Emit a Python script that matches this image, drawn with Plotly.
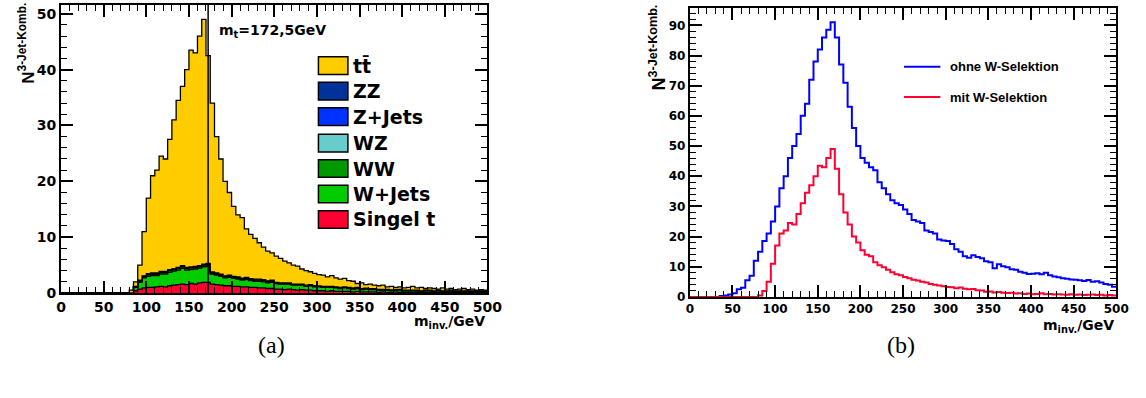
import numpy as np
import plotly.graph_objects as go

# ---------------- data (5 GeV bins from 0 to 500 GeV) ----------------
bin_width = 5.0
m_top = 172.5

# total with W selection (left stacked total == right red curve)
n_mit_W = [0, 0, 0, 0, 0, 0, 0, 0, 0, 0, 0, 0, 0, 0, 0, 0,
           0.5, 2.0, 5.0, 11.0, 17.0, 21.0, 22.0, 24.5, 24.0, 27.5, 31.0, 34.5, 37.0, 40.0,
           43.5, 43.0, 46.0, 49.0, 42.5, 34.0, 28.0, 24.0, 20.0, 18.0,
           15.5, 14.0, 13.5, 11.5, 10.5, 9.8, 9.0, 8.2, 7.5, 7.2,
           6.6, 6.2, 5.7, 5.4, 5.0, 4.8, 4.3, 4.0, 3.8, 3.5,
           3.3, 3.2, 2.9, 3.1, 2.7, 2.5, 2.6, 2.2, 2.1, 1.7,
           1.8, 1.5, 1.6, 1.4, 1.3, 1.4, 1.1, 1.2, 1.0, 1.1,
           0.9, 1.0, 1.2, 0.9, 1.0, 0.8, 0.9, 0.8, 0.7, 0.9,
           0.7, 0.8, 0.6, 0.7, 0.8, 0.6, 0.7, 0.5, 0.6, 0.5]

# without W selection (right blue curve)
n_ohne_W = [0, 0, 0, 0, 0, 0, 0, 0.3, 0.5, 0.8,
            1.2, 2.5, 3.0, 5.5, 7.0, 12.0, 15.0, 18.5, 21.0, 25.0,
            30.0, 36.0, 40.0, 46.0, 50.0, 54.0, 60.0, 64.0, 72.0, 78.0,
            82.0, 86.0, 88.5, 91.0, 86.0, 77.0, 71.0, 63.0, 56.0, 50.0,
            46.0, 44.5, 43.0, 42.0, 38.0, 36.0, 34.0, 32.0, 31.0, 30.5,
            29.0, 27.5, 25.5, 25.0, 24.5, 22.0, 21.5, 21.0, 19.0, 18.7,
            18.5, 17.5, 15.8, 15.0, 13.5, 13.0, 13.8, 13.2, 12.8, 11.8,
            11.5, 9.5, 10.8, 10.2, 9.8, 9.2, 9.0, 8.3, 8.0, 7.6,
            7.7, 7.8, 7.5, 8.0, 7.2, 6.8, 6.5, 6.2, 6.0, 5.8,
            5.7, 5.5, 5.3, 5.6, 5.0, 5.2, 4.8, 4.3, 4.0, 3.4]

singel_t = [0, 0, 0, 0, 0, 0, 0, 0, 0, 0, 0, 0, 0, 0, 0, 0, 0,
            0.4, 0.7, 0.9, 1.0, 1.0, 1.1, 1.2, 1.1, 1.3, 1.4, 1.5, 1.6, 1.5,
            1.7, 1.6, 1.8, 1.9, 1.9, 1.6, 1.5, 1.4, 1.3, 1.3,
            1.2, 1.2, 1.1, 1.1, 1.0, 1.0, 0.9, 0.9, 0.8, 0.8,
            0.7, 0.7, 0.6, 0.7, 0.6, 0.5, 0.6, 0.5, 0.5, 0.4,
            0.4, 0.4, 0.3, 0.4, 0.3, 0.3, 0.3, 0.3, 0.2, 0.3,
            0.2, 0.2, 0.2, 0.2, 0.1, 0.2, 0.1, 0.1, 0.2, 0.1,
            0.1, 0.1, 0.1, 0.1, 0.1, 0.1, 0.1, 0.1, 0.1, 0.1,
            0.1, 0.1, 0.1, 0.1, 0.1, 0.1, 0.1, 0.1, 0.1, 0.1]

w_jets = [0, 0, 0, 0, 0, 0, 0, 0, 0, 0, 0, 0, 0, 0, 0, 0, 0,
          0.6, 1.2, 1.8, 2.0, 2.1, 2.0, 2.2, 2.3, 2.4, 2.5, 2.6, 2.8, 2.6,
          2.5, 2.7, 2.6, 2.8, 2.9, 1.8, 1.7, 1.6, 1.4, 1.5,
          1.4, 1.3, 1.2, 1.3, 1.2, 1.1, 1.2, 1.1, 1.0, 1.1,
          1.0, 0.9, 1.0, 0.9, 0.8, 0.9, 0.8, 0.7, 0.8, 0.7,
          0.7, 0.6, 0.7, 0.6, 0.6, 0.5, 0.6, 0.5, 0.5, 0.5,
          0.4, 0.5, 0.4, 0.4, 0.4, 0.3, 0.4, 0.3, 0.3, 0.4,
          0.3, 0.3, 0.3, 0.3, 0.2, 0.3, 0.3, 0.2, 0.3, 0.2,
          0.2, 0.3, 0.2, 0.2, 0.2, 0.2, 0.2, 0.2, 0.2, 0.2]

ww = [0, 0, 0, 0, 0, 0, 0, 0, 0, 0, 0, 0, 0, 0, 0, 0, 0,
      0.1, 0.2, 0.2, 0.3, 0.3, 0.3, 0.3, 0.3, 0.3, 0.3, 0.3, 0.3, 0.3,
      0.3, 0.3, 0.3, 0.3, 0.3, 0.2, 0.2, 0.2, 0.2, 0.2,
      0.2, 0.2, 0.2, 0.2, 0.2, 0.2, 0.2, 0.2, 0.2, 0.2,
      0.1, 0.1, 0.1, 0.1, 0.1, 0.1, 0.1, 0.1, 0.1, 0.1,
      0.1, 0.1, 0.1, 0.1, 0.1, 0.1, 0.1, 0.1, 0.1, 0.1,
      0.1, 0.1, 0.1, 0.1, 0.1, 0.1, 0.1, 0.1, 0.1, 0.1,
      0.05, 0.05, 0.05, 0.05, 0.05, 0.05, 0.05, 0.05, 0.05, 0.05,
      0.05, 0.05, 0.05, 0.05, 0.05, 0.05, 0.05, 0.05, 0.05, 0.05]

wz = [0, 0, 0, 0, 0, 0, 0, 0, 0, 0, 0, 0, 0, 0, 0, 0, 0,
      0.03, 0.05, 0.05, 0.05, 0.05, 0.05, 0.05, 0.05, 0.05, 0.05, 0.05, 0.05, 0.05,
      0.05, 0.05, 0.05, 0.05, 0.05, 0.05, 0.05, 0.05, 0.05, 0.05,
      0.05, 0.05, 0.05, 0.05, 0.05, 0.05, 0.05, 0.05, 0.05, 0.05,
      0.03, 0.03, 0.03, 0.03, 0.03, 0.03, 0.03, 0.03, 0.03, 0.03,
      0.02, 0.02, 0.02, 0.02, 0.02, 0.02, 0.02, 0.02, 0.02, 0.02,
      0.02, 0.02, 0.02, 0.02, 0.02, 0.02, 0.02, 0.02, 0.02, 0.02,
      0.01, 0.01, 0.01, 0.01, 0.01, 0.01, 0.01, 0.01, 0.01, 0.01,
      0.01, 0.01, 0.01, 0.01, 0.01, 0.01, 0.01, 0.01, 0.01, 0.01]

z_jets = [0, 0, 0, 0, 0, 0, 0, 0, 0, 0, 0, 0, 0, 0, 0, 0, 0,
          0.05, 0.1, 0.1, 0.1, 0.1, 0.1, 0.1, 0.1, 0.1, 0.1, 0.1, 0.1, 0.1,
          0.1, 0.1, 0.1, 0.1, 0.1, 0.1, 0.1, 0.1, 0.1, 0.1,
          0.1, 0.1, 0.1, 0.1, 0.1, 0.1, 0.1, 0.1, 0.1, 0.1,
          0.05, 0.05, 0.05, 0.05, 0.05, 0.05, 0.05, 0.05, 0.05, 0.05,
          0.05, 0.05, 0.05, 0.05, 0.05, 0.05, 0.05, 0.05, 0.05, 0.05,
          0.03, 0.03, 0.03, 0.03, 0.03, 0.03, 0.03, 0.03, 0.03, 0.03,
          0.02, 0.02, 0.02, 0.02, 0.02, 0.02, 0.02, 0.02, 0.02, 0.02,
          0.02, 0.02, 0.02, 0.02, 0.02, 0.02, 0.02, 0.02, 0.02, 0.02]

zz = [0, 0, 0, 0, 0, 0, 0, 0, 0, 0, 0, 0, 0, 0, 0, 0, 0,
      0.02, 0.03, 0.03, 0.03, 0.03, 0.03, 0.03, 0.03, 0.03, 0.03, 0.03, 0.03, 0.03,
      0.03, 0.03, 0.03, 0.03, 0.03, 0.03, 0.03, 0.03, 0.03, 0.03,
      0.03, 0.03, 0.03, 0.03, 0.03, 0.03, 0.03, 0.03, 0.03, 0.03,
      0.02, 0.02, 0.02, 0.02, 0.02, 0.02, 0.02, 0.02, 0.02, 0.02,
      0.02, 0.02, 0.02, 0.02, 0.02, 0.02, 0.02, 0.02, 0.02, 0.02,
      0.01, 0.01, 0.01, 0.01, 0.01, 0.01, 0.01, 0.01, 0.01, 0.01,
      0.01, 0.01, 0.01, 0.01, 0.01, 0.01, 0.01, 0.01, 0.01, 0.01,
      0.01, 0.01, 0.01, 0.01, 0.01, 0.01, 0.01, 0.01, 0.01, 0.01]

legend_left = ["t\u0074\u0304", "ZZ", "Z+Jets", "WZ", "WW", "W+Jets", "Singel t"]
legend_right = ["ohne W-Selektion", "mit W-Selektion"]
x_ticks = [0, 50, 100, 150, 200, 250, 300, 350, 400, 450, 500]

# ---------------- derived ----------------
n_bins = len(n_mit_W)
x_edges = np.arange(n_bins + 1) * bin_width
backgrounds = np.array(singel_t) + np.array(w_jets) + np.array(ww) + np.array(wz) + np.array(z_jets) + np.array(zz)
ttbar = np.clip(np.array(n_mit_W) - backgrounds, 0, None)

def step(vals):
    v = list(vals)
    return v + [v[-1]]

colors = {
    "tt": "#ffcc00", "ZZ": "#003399", "Z+Jets": "#0033ff", "WZ": "#66cccc",
    "WW": "#009900", "W+Jets": "#00cc00", "Singel t": "#ff0033",
}

W, H = 1146, 398
def px(x):
    return x / W
def py(y):
    return 1 - y / H

fig = go.Figure()

# stacked left histogram (bottom to top)
layers = [("Singel t", singel_t), ("W+Jets", w_jets), ("WW", ww), ("WZ", wz),
          ("Z+Jets", z_jets), ("ZZ", zz), ("tt", ttbar)]
cum = np.zeros(n_bins)
for i, (name, vals) in enumerate(layers):
    cum = cum + np.array(vals, dtype=float)
    fig.add_trace(go.Scatter(
        x=x_edges, y=step(cum), mode="lines",
        line=dict(shape="hv", color="black", width=1.3),
        fill="tozeroy" if i == 0 else "tonexty", fillcolor=colors[name],
        xaxis="x", yaxis="y", showlegend=False, name=name, hoverinfo="skip"))

# right plot
fig.add_trace(go.Scatter(x=x_edges, y=step(n_ohne_W), mode="lines",
                         line=dict(shape="hv", color="#0000ff", width=2),
                         xaxis="x2", yaxis="y2", showlegend=False, name=legend_right[0]))
fig.add_trace(go.Scatter(x=x_edges, y=step(n_mit_W), mode="lines",
                         line=dict(shape="hv", color="#ff0033", width=2),
                         xaxis="x2", yaxis="y2", showlegend=False, name=legend_right[1]))

tick_font_l = dict(family="DejaVu Sans", size=14, color="black", weight="bold")
tick_font_r = dict(family="DejaVu Sans", size=12, color="black", weight="bold")

def xaxis(domain, anchor, font):
    return dict(domain=domain, anchor=anchor, range=[0, 500], tickmode="array", tickvals=x_ticks,
                ticks="inside", ticklen=12, tickwidth=1.5, tickcolor="black",
                minor=dict(dtick=10, tick0=0, ticks="inside", ticklen=6, tickwidth=1, tickcolor="black"),
                showline=True, linewidth=2, linecolor="black", mirror="ticks",
                showgrid=False, zeroline=False, tickfont=font)

def yaxis(domain, anchor, rng, font):
    return dict(domain=domain, anchor=anchor, range=rng, dtick=10, tick0=0,
                ticks="inside", ticklen=12, tickwidth=1.5, tickcolor="black",
                minor=dict(dtick=2, tick0=0, ticks="inside", ticklen=6, tickwidth=1, tickcolor="black"),
                showline=True, linewidth=2, linecolor="black", mirror="ticks",
                showgrid=False, zeroline=False, tickfont=font)

fig.update_layout(
    width=W, height=H, margin=dict(l=0, r=0, t=0, b=0),
    paper_bgcolor="white", plot_bgcolor="white", showlegend=False,
    xaxis=xaxis([px(57), px(491)], "y", tick_font_l),
    yaxis=yaxis([py(299), py(5)], "x", [0, 51.6], tick_font_l),
    xaxis2=xaxis([px(697), px(1131)], "y2", tick_font_r),
    yaxis2=yaxis([py(303), py(8)], "x2", [0, 95.8], tick_font_r),
)

# top-mass line
fig.add_shape(type="line", xref="x", yref="y domain", x0=m_top, x1=m_top, y0=0, y1=1,
              line=dict(color="black", width=1.5))

ann = []
bold_l = dict(family="Liberation Sans", color="black", weight="bold")
# axis titles
ann.append(dict(text="N<sup>3-Jet-Komb.</sup>", x=px(22), y=py(44), xref="paper", yref="paper",
                textangle=-90, xanchor="center", yanchor="middle", showarrow=False,
                font=dict(bold_l, size=17)))
ann.append(dict(text="N<sup>3-Jet-Komb.</sup>", x=px(664), y=py(48), xref="paper", yref="paper",
                textangle=-90, xanchor="center", yanchor="middle", showarrow=False,
                font=dict(bold_l, size=18)))
ann.append(dict(text="m<sub>inv.</sub>/GeV", x=px(491), y=py(329), xref="paper", yref="paper",
                xanchor="right", yanchor="middle", showarrow=False,
                font=dict(family="DejaVu Sans", color="black", weight="bold", size=14)))
ann.append(dict(text="m<sub>inv.</sub>/GeV", x=px(1131), y=py(333), xref="paper", yref="paper",
                xanchor="right", yanchor="middle", showarrow=False,
                font=dict(family="DejaVu Sans", color="black", weight="bold", size=14)))
ann.append(dict(text="m<sub>t</sub>=172,5GeV", x=px(216), y=py(32), xref="paper", yref="paper",
                xanchor="left", yanchor="middle", showarrow=False,
                font=dict(family="DejaVu Sans", color="black", weight="bold", size=14)))
# panel labels
ann.append(dict(text="(a)", x=px(271), y=py(352), xref="paper", yref="paper",
                xanchor="center", yanchor="middle", showarrow=False,
                font=dict(family="Liberation Serif", color="black", size=24)))
ann.append(dict(text="(b)", x=px(912), y=py(352), xref="paper", yref="paper",
                xanchor="center", yanchor="middle", showarrow=False,
                font=dict(family="Liberation Serif", color="black", size=24)))

# left legend (boxes + labels)
leg_keys = ["tt", "ZZ", "Z+Jets", "WZ", "WW", "W+Jets", "Singel t"]
leg_y = [67, 93, 119, 146, 172, 198, 224]
for key, label, yc in zip(leg_keys, legend_left, leg_y):
    fig.add_shape(type="rect", xref="paper", yref="paper", x0=px(319), x1=px(349),
                  y0=py(yc + 9), y1=py(yc - 9), fillcolor=colors[key],
                  line=dict(color="black", width=1.5))
    ann.append(dict(text=label, x=px(352), y=py(yc), xref="paper", yref="paper",
                    xanchor="left", yanchor="middle", showarrow=False,
                    font=dict(family="DejaVu Sans", color="black", weight="bold", size=19)))

# right legend (lines + labels)
for label, col, yc in zip(legend_right, ["#0000ff", "#ff0033"], [68, 99]):
    fig.add_shape(type="line", xref="paper", yref="paper", x0=px(915), x1=px(952),
                  y0=py(yc), y1=py(yc), line=dict(color=col, width=2))
    ann.append(dict(text=label, x=px(960), y=py(yc), xref="paper", yref="paper",
                    xanchor="left", yanchor="middle", showarrow=False,
                    font=dict(bold_l, size=13)))

fig.update_layout(annotations=ann)
fig.write_html("out.html")
